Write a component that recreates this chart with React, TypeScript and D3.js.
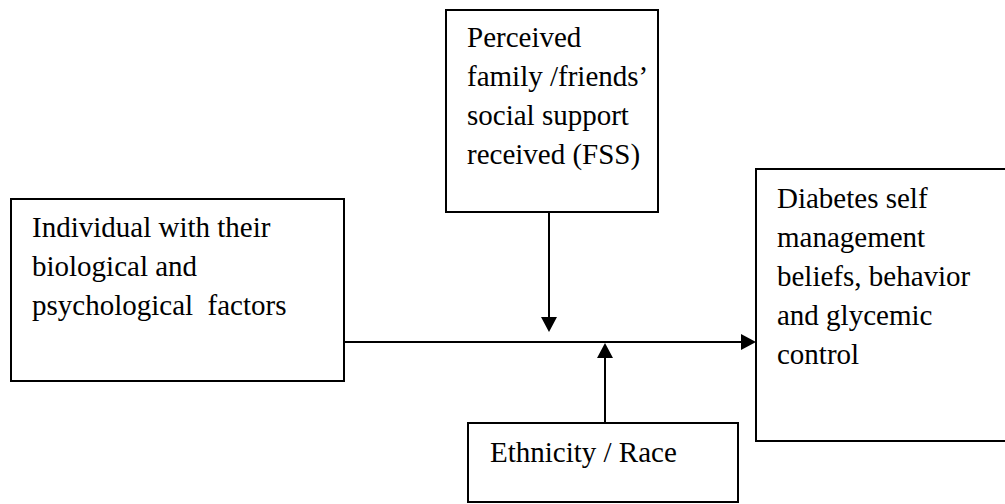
import React from "react";
import * as d3 from "d3";

// Diagram content
const individualLines = ["Individual with their", "biological and", "psychological  factors"];
const supportLines = ["Perceived", "family /friends’", "social support", "received (FSS)"];
const outcomeLines = ["Diabetes self", "management", "beliefs, behavior", "and glycemic", "control"];
const ethnicityLines = ["Ethnicity / Race"];

const W = 1005;
const H = 504;
const FONT = "Liberation Serif, Times New Roman, DejaVu Serif, serif";
const FS = 29;
const LH = 39;

type Box = { x0: number; y0: number; x1: number; y1: number; tx: number; ty: number; lines: string[] };

const boxes: Box[] = [
  { x0: 11, y0: 199, x1: 344, y1: 381, tx: 32, ty: 237, lines: individualLines },
  { x0: 446, y0: 10, x1: 658, y1: 212, tx: 467, ty: 47, lines: supportLines },
  { x0: 756, y0: 169, x1: 1012, y1: 441, tx: 777, ty: 208, lines: outcomeLines },
  { x0: 468, y0: 423, x1: 738, y1: 502, tx: 490, ty: 462, lines: ethnicityLines },
];

const arrows = [
  { x1: 344, y1: 342, x2: 756, y2: 342 },
  { x1: 549, y1: 212, x2: 549, y2: 332 },
  { x1: 605, y1: 423, x2: 605, y2: 343 },
];

function arrowHead(x1: number, y1: number, x2: number, y2: number): string {
  const len = 15;
  const half = 8;
  const ang = Math.atan2(y2 - y1, x2 - x1);
  const bx = x2 - len * Math.cos(ang);
  const by = y2 - len * Math.sin(ang);
  const px = -Math.sin(ang) * half;
  const py = Math.cos(ang) * half;
  const p = d3.path();
  p.moveTo(x2, y2);
  p.lineTo(bx + px, by + py);
  p.lineTo(bx - px, by - py);
  p.closePath();
  return p.toString();
}

export default function App() {
  return (
    <svg
      width={W}
      height={H}
      style={{ position: "absolute", left: 0, top: 0, background: "#fff" }}
      xmlns="http://www.w3.org/2000/svg"
    >
      <rect x={0} y={0} width={W} height={H} fill="#fff" />
      {boxes.map((b, i) => (
        <g key={i}>
          <rect
            x={b.x0}
            y={b.y0}
            width={b.x1 - b.x0}
            height={b.y1 - b.y0}
            fill="none"
            stroke="#000"
            strokeWidth={2}
          />
          {b.lines.map((l, j) => (
            <text
              key={j}
              x={b.tx}
              y={b.ty + j * LH}
              style={{ fontFamily: FONT, fontSize: FS, whiteSpace: "pre" }}
              fill="#000"
            >
              {l}
            </text>
          ))}
        </g>
      ))}
      {arrows.map((a, i) => {
        const ang = Math.atan2(a.y2 - a.y1, a.x2 - a.x1);
        const ex = a.x2 - 14 * Math.cos(ang);
        const ey = a.y2 - 14 * Math.sin(ang);
        return (
          <g key={i}>
            <line x1={a.x1} y1={a.y1} x2={ex} y2={ey} stroke="#000" strokeWidth={2} />
            <path d={arrowHead(a.x1, a.y1, a.x2, a.y2)} fill="#000" />
          </g>
        );
      })}
    </svg>
  );
}
